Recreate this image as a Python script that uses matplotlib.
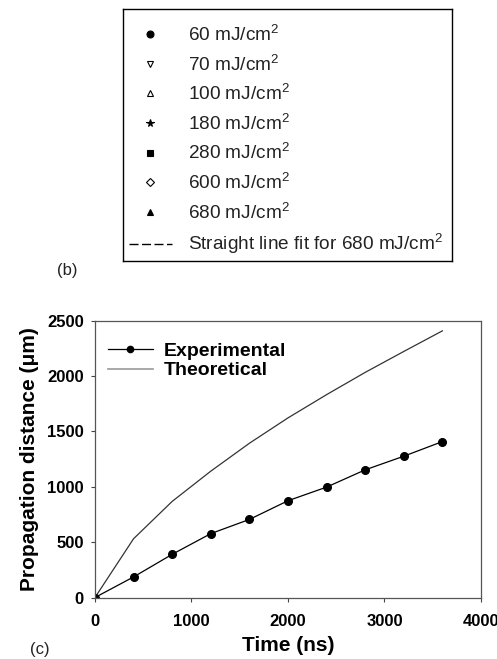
import matplotlib
matplotlib.use("Agg")
import matplotlib.pyplot as plt
from matplotlib.lines import Line2D

plt.rcParams['font.family'] = ['Liberation Sans', 'DejaVu Sans']
plt.rcParams['mathtext.fontset'] = 'custom'
plt.rcParams['mathtext.rm'] = 'Liberation Sans'
plt.rcParams['mathtext.it'] = 'Liberation Sans:italic'
plt.rcParams['mathtext.bf'] = 'Liberation Sans:bold'

# Panel (b) legend entries
fluences = ["60", "70", "100", "180", "280", "600", "680"]
fluence_markers = ["o", "v", "^", "*", "s", "D", "^"]
fluence_filled = [True, False, False, True, True, False, True]
fit_label = "Straight line fit for 680 mJ/cm$^2$"

# Panel (c) data
time_ns = [0, 400, 800, 1200, 1600, 2000, 2400, 2800, 3200, 3600]
experimental = [0, 186, 390, 577, 705, 874, 997, 1153, 1276, 1408]
theoretical = [0, 531, 868, 1141, 1393, 1622, 1832, 2033, 2222, 2408]

x_ticks = [0, 1000, 2000, 3000, 4000]
y_ticks = [0, 500, 1000, 1500, 2000, 2500]

fig = plt.figure(figsize=(4.97, 6.59), dpi=100)

# ---- legend box of panel (b)
box = fig.add_axes([0.2475, 0.6032, 0.662, 0.3832])
box.set_xticks([])
box.set_yticks([])
for sp in box.spines.values():
    sp.set_color("black")
    sp.set_linewidth(1.0)

handles = []
for f, m, filled in zip(fluences, fluence_markers, fluence_filled):
    ms = 5 if m != "*" else 5.5
    if m == "D":
        ms = 4
    handles.append(Line2D([], [], linestyle="none", marker=m, markersize=ms,
                          markerfacecolor="black" if filled else "white",
                          markeredgecolor="black", markeredgewidth=0.8,
                          label=f"{f} mJ/cm$^2$"))
handles.append(Line2D([], [], linestyle=(0, (6.5, 2.5)), color="black", lw=1.0,
                      label=fit_label))
leg = box.legend(handles=handles, loc="center left",
                 bbox_to_anchor=(0.0, 0.479), frameon=False,
                 fontsize=13.7, handlelength=2.25,
                 handletextpad=0.85, labelspacing=0.5, borderpad=0.3,
                 borderaxespad=0)
for t in leg.get_texts():
    t.set_color("#222222")

fig.text(0.115, 0.590, "(b)", fontsize=12, ha="left", va="center",
         color="#222222")
fig.text(0.060, 0.014, "(c)", fontsize=12, ha="left", va="center",
         color="#222222")

# ---- panel (c)
ax = fig.add_axes([0.1911, 0.0933, 0.9678 - 0.1911, 0.5134 - 0.0933])
ax.plot(time_ns, theoretical, color="#333333", lw=0.9)
ax.plot(time_ns, experimental, color="black", lw=0.9, marker="o",
        markersize=5.5)
ax.set_xlim(0, 4000)
ax.set_ylim(0, 2500)
ax.set_xticks(x_ticks)
ax.set_yticks(y_ticks)
ax.tick_params(direction="out", length=3, width=0.8, labelsize=12,
               color="#444444")
ax.tick_params(axis="x", pad=9)
ax.tick_params(axis="y", pad=5)
for lab in ax.get_xticklabels() + ax.get_yticklabels():
    lab.set_fontweight("bold")
for sp in ax.spines.values():
    sp.set_color("#555555")
    sp.set_linewidth(0.9)
ax.set_xlabel("Time (ns)", fontsize=15, fontweight="bold", labelpad=5)
ax.set_ylabel("Propagation distance (\u03bcm)", fontsize=15,
              fontweight="bold", labelpad=6)

leg_handles = [
    Line2D([], [], color="black", lw=0.9, marker="o", markersize=4.5,
           label="Experimental"),
    Line2D([], [], color="#999999", lw=1.2, label="Theoretical"),
]
ax.legend(handles=leg_handles, loc="upper left", frameon=False,
          prop={"weight": "bold", "size": 14}, handlelength=2.3,
          handletextpad=0.6, labelspacing=0.1,
          bbox_to_anchor=(-0.012, 0.985))

fig.savefig("out.png", dpi=100)
